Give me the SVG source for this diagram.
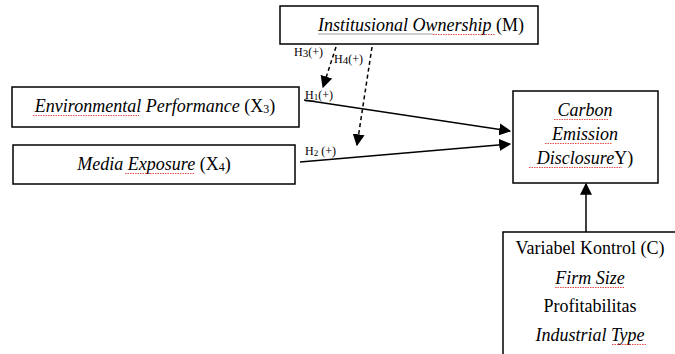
<svg xmlns="http://www.w3.org/2000/svg" width="675" height="354" viewBox="0 0 675 354">
<defs>
<style>
.box{fill:#fff;stroke:#000;stroke-width:1.5}
.t{font-family:"Liberation Serif","Times New Roman",serif;font-size:18px;fill:#000}
.i{font-style:italic}
.s{font-family:"Liberation Serif","Times New Roman",serif;font-size:12px;fill:#000}
.sub{font-size:11px}
.ln{stroke:#000;stroke-width:1.5;fill:none}
.dl{stroke:#000;stroke-width:1.5;fill:none;stroke-dasharray:4 3}
.sq{stroke:#e02020;stroke-width:0.8;fill:none;stroke-dasharray:1.5 1}
</style>
<marker id="ahb" viewBox="0 0 10 10" refX="9" refY="5" markerWidth="12" markerHeight="12" markerUnits="userSpaceOnUse" orient="auto">
<path d="M0,0 L10,5 L0,10 z" fill="#000"/>
</marker>
</defs>
<g id="connectors">
<line class="ln" x1="304" y1="100" x2="510" y2="131" marker-end="url(#ahb)"/>
<line class="ln" x1="300" y1="162" x2="510" y2="144" marker-end="url(#ahb)"/>
<line class="dl" x1="336" y1="47" x2="323" y2="87" marker-end="url(#ahb)"/>
<line class="dl" x1="372" y1="47" x2="357" y2="145" marker-end="url(#ahb)"/>
<line class="ln" x1="586" y1="232" x2="586" y2="184" marker-end="url(#ahb)"/>
<text class="s" x="294" y="56">H<tspan class="sub" font-size="9" dy="1">3</tspan><tspan dy="-1">(+)</tspan></text>
<text class="s" x="334" y="63">H<tspan class="sub" font-size="9" dy="1">4</tspan><tspan dy="-1">(+)</tspan></text>
<text class="s" x="305" y="99">H<tspan font-size="9" dy="1">1</tspan><tspan dy="-1">(+)</tspan></text>
<line x1="305" y1="101" x2="315" y2="101" stroke="#000" stroke-width="0.7"/>
<text class="s" x="305" y="155">H<tspan font-size="9" dy="1">2</tspan><tspan dy="-1"> (+)</tspan></text>
</g>
<g id="node-M">
<rect class="box" x="280" y="6" width="258" height="38"/>
<text class="t" x="421" y="31" text-anchor="middle"><tspan class="i">Institusional Ownership</tspan> (M)</text>
<line x1="318" y1="34" x2="433" y2="34" stroke="#888" stroke-width="0.8"/>
<path class="sq" d="M433,34.5 L495,34.5"/>
</g>
<g id="node-X3">
<rect class="box" x="12" y="87" width="287" height="40"/>
<text class="t" x="155" y="112" text-anchor="middle"><tspan class="i">Environmental Performance</tspan> (X<tspan font-size="12" dy="1">3</tspan><tspan dy="-1">)</tspan></text>
<path class="sq" d="M33,115.5 L139,115.5"/>
</g>
<g id="node-X4">
<rect class="box" x="13" y="145" width="282" height="39"/>
<text class="t" x="154" y="170" text-anchor="middle"><tspan class="i">Media Exposure</tspan> (X<tspan font-size="12" dy="1">4</tspan><tspan dy="-1">)</tspan></text>
<path class="sq" d="M125,173.5 L195,173.5"/>
</g>
<g id="node-Y">
<rect class="box" x="513" y="91" width="145" height="92"/>
<text class="t i" x="585" y="116" text-anchor="middle">Carbon</text>
<text class="t i" x="585" y="140" text-anchor="middle">Emission</text>
<text class="t" x="585" y="164" text-anchor="middle"><tspan class="i">Disclosure</tspan>Y)</text>
<path class="sq" d="M554,119.5 L608,119.5 M545,143.5 L612,143.5 M529,167.5 L622,167.5"/>
</g>
<g id="node-C">
<rect class="box" x="503" y="232" width="180" height="130"/>
<text class="t" x="590" y="254" text-anchor="middle">Variabel Kontrol (C)</text>
<text class="t i" x="590" y="284" text-anchor="middle">Firm Size</text>
<text class="t" x="590" y="312" text-anchor="middle">Profitabilitas</text>
<text class="t i" x="590" y="341" text-anchor="middle">Industrial Type</text>
<path class="sq" d="M555,287.5 L625,287.5 M612,344.5 L646,344.5"/>
</g>
</svg>
